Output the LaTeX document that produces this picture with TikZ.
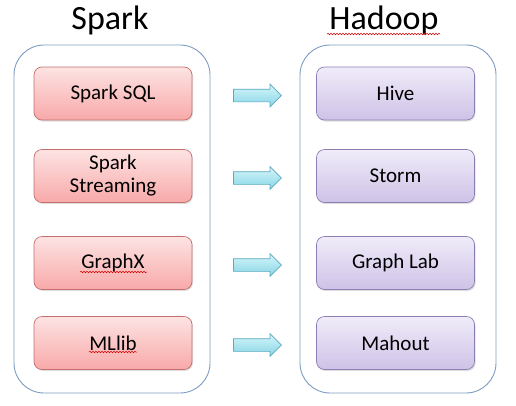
\documentclass[tikz,border=0pt]{standalone}
\usepackage{fontspec}
\setmainfont{Carlito}
\usetikzlibrary{shapes.arrows,shadows,decorations.pathmorphing}
\definecolor{frameline}{HTML}{7D9CC2}
\definecolor{sparktop}{HTML}{FDE3E3}
\definecolor{sparkbot}{HTML}{F8A9A9}
\definecolor{sparkline}{HTML}{C46E6E}
\definecolor{hadooptop}{HTML}{F0ECF9}
\definecolor{hadoopbot}{HTML}{CEC2E7}
\definecolor{hadoopline}{HTML}{8C7EB2}
\definecolor{arrowtop}{HTML}{D6F5FA}
\definecolor{arrowbot}{HTML}{86D6E6}
\definecolor{arrowline}{HTML}{5AA8BE}
\tikzset{
  frame/.style={draw=frameline,line width=0.9pt,rounded corners=30pt,
    minimum width=196pt,minimum height=348pt},
  title/.style={anchor=base,font=\fontsize{34}{34}\selectfont},
  fat/.style={single arrow,draw=arrowline,top color=arrowtop,bottom color=arrowbot,
    minimum height=48pt,inner xsep=0pt,inner ysep=6pt,single arrow head extend=5pt,
    line width=0.7pt,yshift=-2pt},
  squig/.style={red!85!black,line width=0.5pt,decorate,
    decoration={snake,amplitude=0.8pt,segment length=3pt}}
}
\begin{document}
\begin{tikzpicture}[x=1pt,y=-1pt]
\useasboundingbox (0,0) rectangle (516,405);
\node (L) at (112,219) [frame]{};
\node (R) at (398,219) [frame]{};
\node (T1) at (110,29) [title]{Spark};
\node (T2) at (384,29) [title]{Hadoop};

\begin{scope}[every node/.style={rounded corners=8pt,draw=sparkline,line width=0.7pt,
  top color=sparktop,bottom color=sparkbot,minimum width=158pt,minimum height=53pt,
  align=center,font=\fontsize{21}{23}\selectfont,
  drop shadow={shadow xshift=1pt,shadow yshift=-1.5pt,opacity=0.25}}]
\node (A) at (113,93.5) {Spark SQL};
\node (B) at (113,176) {Spark\\Streaming};
\node (C) at (113,263) {GraphX};
\node (D) at (113,343) {MLlib};
\end{scope}

\begin{scope}[every node/.style={rounded corners=8pt,draw=hadoopline,line width=0.7pt,
  top color=hadooptop,bottom color=hadoopbot,minimum width=158pt,minimum height=53pt,
  align=center,font=\fontsize{21}{23}\selectfont,
  drop shadow={shadow xshift=1pt,shadow yshift=-1.5pt,opacity=0.25}}]
\node (E) at (395.5,93.5) {Hive};
\node (F) at (395.5,176) {Storm};
\node (G) at (395.5,263) {Graph Lab};
\node (H) at (395.5,343) {Mahout};
\end{scope}

\path (A) -- node[fat]{} (E);
\path (B) -- node[fat]{} (F);
\path (C) -- node[fat]{} (G);
\path (D) -- node[fat]{} (H);

% spell-check marks
\draw[squig] (327,34) -- (440,34);
\draw[squig] (80,272) -- (147,272);
\draw[squig] (89,352) -- (137,352);
\end{tikzpicture}
\end{document}
